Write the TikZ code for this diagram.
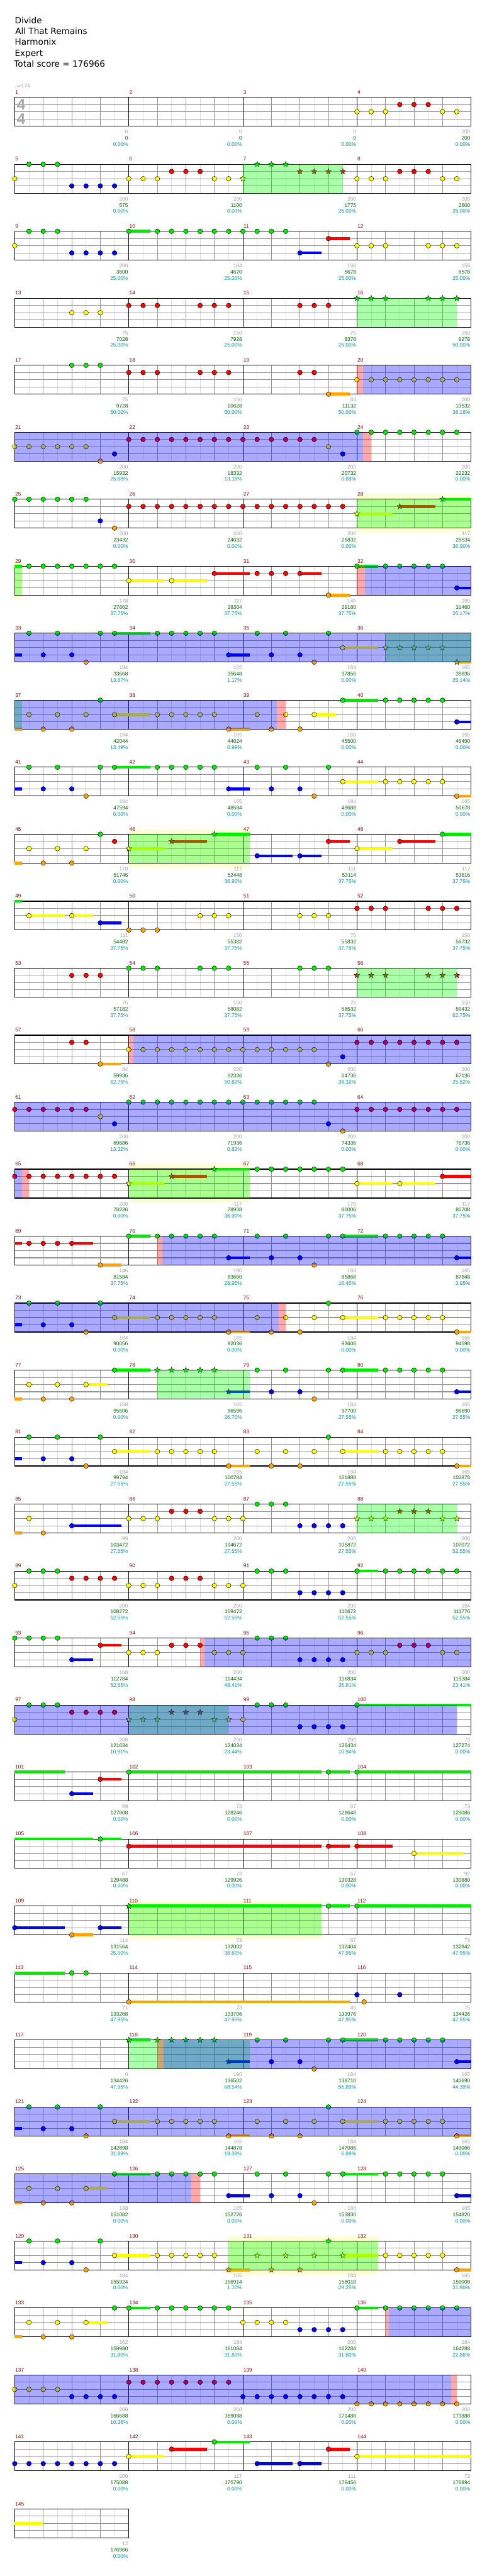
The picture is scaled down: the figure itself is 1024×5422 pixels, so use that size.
\documentclass[tikz,border=0pt]{standalone}
\usepackage{fontspec}
\setmainfont{DejaVu Sans}
\newfontfamily\numfont{Liberation Sans}
\usetikzlibrary{shapes.geometric}
\definecolor{lane0}{RGB}{0,235,0}
\definecolor{lane1}{RGB}{255,0,0}
\definecolor{lane2}{RGB}{255,255,0}
\definecolor{lane3}{RGB}{0,0,255}
\definecolor{lane4}{RGB}{255,165,0}
\definecolor{spgreen}{RGB}{0,255,0}
\definecolor{odblue}{RGB}{0,0,255}
\definecolor{pkred}{RGB}{255,0,0}
\definecolor{paleyel}{RGB}{255,255,212}
\definecolor{gridlight}{RGB}{222,222,222}
\definecolor{gridmid}{RGB}{150,150,150}
\definecolor{mnumred}{RGB}{140,0,0}
\definecolor{basegray}{RGB}{160,160,160}
\definecolor{scoregreen}{RGB}{0,100,0}
\definecolor{pctcyan}{RGB}{0,150,150}
\definecolor{headgray}{RGB}{168,168,168}
\tikzset{
  note/.style={circle, draw=black, line width=0.6pt, inner sep=0pt, minimum size=10pt},
  starnote/.style={star, star points=5, star point ratio=2.3, draw=black, line width=0.5pt, inner sep=0pt, minimum size=12.5pt},
  eighthline/.style={gridlight, line width=1pt},
  quarterline/.style={gridmid, line width=1pt},
  laneline/.style={gridmid, line width=1.4pt},
  barline/.style={black, line width=1pt},
  frameline/.style={black, line width=1.5pt},
  odfill/.style={fill=odblue, fill opacity=0.333},
  spfill/.style={fill=spgreen, fill opacity=0.333},
  pkfill/.style={fill=pkred, fill opacity=0.333},
  palefill/.style={fill=paleyel},
  mlabel/.style={anchor=base west, inner sep=0pt, text=mnumred, font=\numfont\fontsize{11}{11}\selectfont},
  basenum/.style={anchor=base east, inner sep=0pt, text=basegray, font=\numfont\fontsize{11}{11}\selectfont},
  scorenum/.style={basenum, text=scoregreen},
  pctnum/.style={basenum, text=pctcyan},
  headline/.style={anchor=base west, inner sep=0pt, font=\fontsize{18}{18}\selectfont},
  tempomark/.style={anchor=base west, inner sep=0pt, text=headgray, font=\fontsize{10}{10}\selectfont},
  timesig/.style={inner sep=0pt, text=headgray, font=\numfont\bfseries\fontsize{32}{32}\selectfont}
}
% row helpers (1 unit = 1px, y downwards)
\newcommand\setrow[1]{\def\rw{#1}\pgfmathsetmacro\rt{204.8+(#1-1)*141}\pgfmathsetmacro\rb{\rt+60.8}}
\newcommand\rowgrid[2]{%
  \pgfmathsetmacro\rr{31+240*#2}%
  \foreach \jj in {1,...,#2}{\foreach \ee in {30,90,150,210}{\draw[eighthline] ({31+240*(\jj-1)+\ee},\rt) -- ({31+240*(\jj-1)+\ee},\rb);}}
  \foreach \lz in {1,2,3}{\draw[laneline] (31,{\rt+15.2*\lz}) -- (\rr,{\rt+15.2*\lz});}
  \foreach \jj in {1,...,#2}{%
    \foreach \ee in {60,120,180}{\draw[quarterline] ({31+240*(\jj-1)+\ee},\rt) -- ({31+240*(\jj-1)+\ee},\rb);}
    \draw[barline] ({31+240*(\jj-1)},\rt) -- ({31+240*(\jj-1)},\rb);
    \pgfmathtruncatemacro\mn{#1+\jj-1}
    \node[mlabel] (m\mn) at ({32+240*(\jj-1)},{\rt-7}) {\mn};
  }
  \draw[frameline] (31,\rt) rectangle (\rr,\rb);
}
\newcommand\susbar[3]{\fill[lane#1] ({31+30*#2},{\rt+15.2*#1-3}) rectangle ({31+30*#3},{\rt+15.2*#1+3});}
\newcommand\lanenotes[2]{\foreach \k [count=\q] in {#2}{\node[note,fill=lane#1] (n\rw-#1-\q) at ({31+30*\k},{\rt+15.2*#1}) {};}}
\newcommand\lanestars[2]{\foreach \k [count=\q] in {#2}{\node[starnote,fill=lane#1] (s\rw-#1-\q) at ({31+30*\k},{\rt+15.2*#1}) {};}}
\newcommand\spzone[2]{\fill[spfill] ({31+30*#1},\rt) rectangle ({31+30*#2},\rb);}
\newcommand\odzone[2]{\fill[odfill] ({31+30*#1},\rt) rectangle ({31+30*#2},\rb);}
\newcommand\pkzone[2]{\fill[pkfill] ({31+30*#1},\rt) rectangle ({31+30*#2},\rb);}
\newcommand\palezone[2]{\fill[palefill] ({31+30*#1},{\rt-10}) rectangle ({31+30*#2},{\rb+10});}
\newcommand\rowscores[1]{\foreach \ga/\sc/\pc [count=\jj] in {#1}{%
  \node[basenum] (b\rw-\jj) at ({29.5+240*\jj},{\rb+16}) {\ga};
  \node[scorenum] (t\rw-\jj) at ({29.5+240*\jj},{\rb+29}) {\sc};
  \node[pctnum] (p\rw-\jj) at ({29.5+240*\jj},{\rb+42}) {\pc\%};}}

\begin{document}
\begin{tikzpicture}[x=1pt,y=-1pt]
  \useasboundingbox[fill=white] (0,0) rectangle (1024,5422);
  % header
  \node[headline] (song) at (31,49) {Divide};
  \node[headline] (artist) at (32,72) {All That Remains};
  \node[headline] (charter) at (31,95) {Harmonix};
  \node[headline] (level) at (31,118) {Expert};
  \node[headline] (total) at (29.5,141) {Total score = 176966};
  \node[tempomark] (tempo) at (31,185) {♩=174};

  % measures 1-4
  \setrow{1}\rowgrid{1}{4}
  \node[timesig] (tsa) at (44.5,220.5) {4};
  \node[timesig] (tsb) at (44.5,250.5) {4};
  \lanenotes{2}{24,25,26,30,31}
  \lanenotes{1}{27,28,29}
  \rowscores{0/0/0.00,0/0/0.00,0/0/0.00,200/200/0.00}

  % measures 5-8
  \setrow{2}\rowgrid{5}{4}
  \lanenotes{2}{0,8,9,10,14,15,24,25,26,30,31}
  \lanenotes{0}{1,2,3}
  \lanenotes{3}{4,5,6,7}
  \lanenotes{1}{11,12,13,27,28,29}
  \lanestars{2}{16}\lanestars{0}{17,18,19}\lanestars{1}{20,21,22,23}
  \spzone{16}{23}
  \rowscores{200/575/0.00,200/1100/0.00,200/1775/25.00,200/2600/25.00}

  % measures 9-12
  \setrow{3}\rowgrid{9}{4}
  \susbar{0}{8}{9.5}\susbar{3}{20}{21.5}\susbar{1}{22}{23.5}
  \lanenotes{2}{0,24,25,26,29,30,31}
  \lanenotes{0}{1,2,3,8,10,11,12,13,14,15,16,17,18,19}
  \lanenotes{3}{4,5,6,7,20}
  \lanenotes{1}{22}
  \rowscores{200/3600/25.00,184/4670/25.00,168/5678/25.00,150/6578/25.00}

  % measures 13-16
  \setrow{4}\rowgrid{13}{4}
  \lanenotes{2}{4,5,6}
  \lanenotes{1}{8,9,10,13,14,15,20,21,22}
  \lanestars{0}{24,25,26,29,30,31}
  \spzone{24}{31}
  \rowscores{75/7028/25.00,150/7928/25.00,75/8378/25.00,150/9278/50.00}

  % measures 17-20
  \setrow{5}\rowgrid{17}{4}
  \susbar{4}{22}{23.5}
  \lanenotes{0}{4,5,6}
  \lanenotes{1}{8,9,10,13,14,15,20,21}
  \lanenotes{4}{22}
  \lanenotes{2}{24,25,26,27,28,29,30,31}
  \pkzone{24}{24.43}\odzone{24.43}{32}
  \rowscores{75/9728/50.00,150/10628/50.00,84/11132/50.00,200/13532/38.18}

  % measures 21-24
  \setrow{6}\rowgrid{21}{4}
  \lanenotes{2}{0,1,2,3,4,5,22}
  \lanenotes{4}{6}
  \lanenotes{3}{7,23}
  \lanenotes{1}{8,9,10,11,12,13,14,15,16,17,18,19,20,21}
  \lanenotes{0}{24,25,26,27,28,29,30,31}
  \odzone{0}{24.43}\pkzone{24.43}{25}
  \rowscores{200/15932/25.68,200/18332/13.18,200/20732/0.68,200/22232/0.00}

  % measures 25-28
  \setrow{7}\palezone{24}{32}\rowgrid{25}{4}
  \susbar{2}{24}{26.5}\susbar{1}{27}{29.5}\susbar{0}{30}{32}
  \lanenotes{0}{0,1,2,3,4,5}
  \lanenotes{3}{6}
  \lanenotes{4}{7}
  \lanenotes{1}{8,9,10,11,12,13,14,15,16,17,18,19,20,21,22,23}
  \lanestars{2}{24}\lanestars{1}{27}\lanestars{0}{30}
  \spzone{24}{32}
  \rowscores{200/23432/0.00,200/24632/0.00,200/25832/0.00,117/26534/36.90}

  % measures 29-32
  \setrow{8}\palezone{0}{0.5}\rowgrid{29}{4}
  \susbar{0}{0}{0.5}\susbar{2}{8}{10.5}\susbar{2}{11}{13.5}\susbar{1}{14}{16.5}\susbar{1}{20}{21.5}
  \susbar{4}{22}{23.5}\susbar{0}{24}{25.5}\susbar{3}{31}{32}
  \lanenotes{0}{1,2,3,4,5,6,7,24,26,27,28,29,30}
  \lanenotes{2}{8,11}
  \lanenotes{1}{14,17,18,19,20}
  \lanenotes{4}{22}
  \lanenotes{3}{31}
  \spzone{0}{0.5}\pkzone{24}{24.55}\odzone{24.55}{32}
  \rowscores{178/27602/37.75,117/28304/37.75,146/29180/37.75,190/31460/26.17}

  % measures 33-36
  \setrow{9}\rowgrid{33}{4}
  \susbar{3}{0}{0.5}\susbar{0}{7}{9.5}\susbar{3}{15}{16.5}\susbar{2}{23}{25.5}\susbar{4}{31}{32}
  \lanenotes{0}{1,3,6,7,10,11,12,13,14,17,19,22}
  \lanenotes{3}{2,4,15,18,20}
  \lanenotes{4}{5,21}
  \lanenotes{2}{23}
  \lanestars{2}{26,27,28,29,30}\lanestars{4}{31}
  \spzone{26}{32}\odzone{0}{32}
  \rowscores{184/33668/13.67,165/35648/1.17,184/37856/0.00,165/39836/25.14}

  % measures 37-40
  \setrow{10}\rowgrid{37}{4}
  \susbar{4}{0}{0.5}\susbar{2}{7}{9.5}\susbar{4}{15}{16.5}\susbar{2}{21}{22.5}\susbar{0}{23}{25.5}\susbar{3}{31}{32}
  \lanenotes{2}{1,3,5,7,10,11,12,13,14,17,19,21}
  \lanenotes{4}{2,4,15,18,20}
  \lanenotes{0}{6,23,26,27,28,29,30}
  \lanenotes{3}{31}
  \spzone{0}{0.5}\odzone{0}{18.4}\pkzone{18.4}{19}
  \rowscores{184/42044/13.49,165/44024/0.99,168/45500/0.00,165/46490/0.00}

  % measures 41-44
  \setrow{11}\rowgrid{41}{4}
  \susbar{3}{0}{0.5}\susbar{0}{7}{9.5}\susbar{3}{15}{16.5}\susbar{2}{23}{25.5}\susbar{4}{31}{32}
  \lanenotes{0}{1,3,6,7,10,11,12,13,14,17,19,22}
  \lanenotes{3}{2,4,15,18,20}
  \lanenotes{4}{5,21,31}
  \lanenotes{2}{23,26,27,28,29,30}
  \rowscores{184/47594/0.00,165/48584/0.00,184/49688/0.00,165/50678/0.00}

  % measures 45-48
  \setrow{12}\palezone{8}{16.5}\rowgrid{45}{4}
  \susbar{4}{0}{0.5}\susbar{2}{8}{10.5}\susbar{1}{11}{13.5}\susbar{0}{14}{16.5}\susbar{3}{17}{19.5}
  \susbar{3}{20}{21.5}\susbar{1}{22}{23.5}\susbar{2}{24}{26.5}\susbar{1}{27}{29.5}\susbar{0}{30}{32}
  \lanenotes{2}{1,3,5,24}
  \lanenotes{4}{2,4}
  \lanenotes{0}{6,30}
  \lanenotes{1}{7,22,27}
  \lanenotes{3}{17,20}
  \lanestars{2}{8}\lanestars{1}{11}\lanestars{0}{14}
  \spzone{8}{16.5}
  \rowscores{178/51746/0.00,117/52448/36.90,111/53114/37.75,117/53816/37.75}

  % measures 49-52
  \setrow{13}\rowgrid{49}{4}
  \susbar{0}{0}{0.5}\susbar{2}{1}{3.5}\susbar{2}{4}{5.5}\susbar{3}{6}{7.5}
  \lanenotes{2}{1,4,13,14,15,20,21,22}
  \lanenotes{3}{6}
  \lanenotes{4}{8,9,10}
  \lanenotes{1}{24,25,26,29,30,31}
  \rowscores{111/54482/37.75,150/55382/37.75,75/55832/37.75,150/56732/37.75}

  % measures 53-56
  \setrow{14}\rowgrid{53}{4}
  \lanenotes{1}{4,5,6}
  \lanenotes{0}{8,9,10,13,14,15,20,21,22}
  \lanestars{1}{24,25,26,29,30,31}
  \spzone{24}{31}
  \rowscores{75/57182/37.75,150/58082/37.75,75/58532/37.75,150/59432/62.75}

  % measures 57-60
  \setrow{15}\rowgrid{57}{4}
  \susbar{4}{6}{7.5}
  \lanenotes{1}{4,5,24,25,26,27,28,29,30,31}
  \lanenotes{4}{6,22}
  \lanenotes{2}{8,9,10,11,12,13,14,15,16,17,18,19,20,21}
  \lanenotes{3}{23}
  \pkzone{8}{8.3}\odzone{8.3}{32}
  \rowscores{84/59936/62.75,200/62336/50.82,200/64736/38.32,200/67136/25.82}

  % measures 61-64
  \setrow{16}\rowgrid{61}{4}
  \lanenotes{1}{0,1,2,3,4,5,24,25,26,27,28,29,30,31}
  \lanenotes{2}{6}
  \lanenotes{3}{7,22}
  \lanenotes{0}{8,9,10,11,12,13,14,15,16,17,18,19,20,21}
  \lanenotes{4}{23}
  \odzone{0}{32}
  \rowscores{200/69686/13.32,200/71936/0.82,200/74336/0.00,200/76736/0.00}

  % measures 65-68
  \setrow{17}\palezone{8}{16.5}\rowgrid{65}{4}
  \susbar{2}{8}{10.5}\susbar{1}{11}{13.5}\susbar{0}{14}{16.5}\susbar{2}{24}{26.5}\susbar{2}{27}{29.5}\susbar{1}{30}{32}
  \lanenotes{1}{0,1,2,3,4,5,6,7,30}
  \lanenotes{0}{17,18,19,20,21,22,23}
  \lanenotes{2}{24,27}
  \lanestars{2}{8}\lanestars{1}{11}\lanestars{0}{14}
  \spzone{8}{16.5}\odzone{0}{0.5}\pkzone{0.5}{1}
  \rowscores{200/78236/0.00,117/78938/36.90,178/80006/37.75,117/80708/37.75}

  % measures 69-72
  \setrow{18}\rowgrid{69}{4}
  \susbar{1}{0}{0.5}\susbar{1}{4}{5.5}\susbar{4}{6}{7.5}\susbar{0}{8}{9.5}\susbar{3}{15}{16.5}\susbar{0}{23}{25.5}\susbar{3}{31}{32}
  \lanenotes{1}{1,2,3,4}
  \lanenotes{4}{6,21}
  \lanenotes{0}{8,10,11,12,13,14,17,19,22,23,26,27,28,29,30}
  \lanenotes{3}{15,18,20,31}
  \pkzone{10}{10.33}\odzone{10.33}{32}
  \rowscores{146/81584/37.75,190/83660/28.95,184/85868/16.45,165/87848/3.95}

  % measures 73-76
  \setrow{19}\rowgrid{73}{4}
  \susbar{3}{0}{0.5}\susbar{2}{7}{9.5}\susbar{4}{15}{16.5}\susbar{2}{23}{25.5}\susbar{4}{31}{32}
  \lanenotes{0}{1,3,6,22}
  \lanenotes{3}{2,4}
  \lanenotes{4}{5,15,18,20,31}
  \lanenotes{2}{7,10,11,12,13,14,17,19,21,23,26,27,28,29,30}
  \odzone{0}{18.5}\pkzone{18.5}{19}
  \rowscores{184/90056/0.00,165/92036/0.00,184/93608/0.00,165/94598/0.00}

  % measures 77-80
  \setrow{20}\rowgrid{77}{4}
  \susbar{4}{0}{0.5}\susbar{2}{5}{6.5}\susbar{0}{7}{9.5}\susbar{3}{15}{16.5}\susbar{0}{23}{25.5}\susbar{3}{31}{32}
  \lanenotes{2}{1,3,5}
  \lanenotes{4}{2,4,21}
  \lanenotes{0}{7,17,19,22,23,26,27,28,29,30}
  \lanenotes{3}{18,20,31}
  \lanestars{0}{10,11,12,13,14}\lanestars{3}{15}
  \spzone{10}{16.5}
  \rowscores{168/95606/0.00,165/96596/26.70,184/97700/27.55,165/98690/27.55}

  % measures 81-84
  \setrow{21}\rowgrid{81}{4}
  \susbar{3}{0}{0.5}\susbar{2}{7}{9.5}\susbar{4}{15}{16.5}\susbar{2}{23}{25.5}\susbar{4}{31}{32}
  \lanenotes{0}{1,3,6,22}
  \lanenotes{3}{2,4}
  \lanenotes{4}{5,15,18,20,31}
  \lanenotes{2}{7,10,11,12,13,14,17,19,21,23,26,27,28,29,30}
  \rowscores{184/99794/27.55,165/100784/27.55,184/101888/27.55,165/102878/27.55}

  % measures 85-88
  \setrow{22}\rowgrid{85}{4}
  \susbar{4}{0}{0.5}\susbar{3}{4}{7.5}
  \lanenotes{2}{1,8,9,10,14,15,16}
  \lanenotes{4}{2}
  \lanenotes{3}{4,20,21,22,23}
  \lanenotes{1}{11,12,13}
  \lanenotes{0}{17,18,19}
  \lanestars{2}{24,25,26,30,31}\lanestars{1}{27,28,29}
  \spzone{24}{31}
  \rowscores{99/103472/27.55,200/104672/27.55,200/105872/27.55,200/107072/52.55}

  % measures 89-92
  \setrow{23}\rowgrid{89}{4}
  \susbar{0}{24}{25.5}
  \lanenotes{2}{0,8,9,10,14,15,16}
  \lanenotes{0}{1,2,3,17,18,19,24,26,27,28,29,30,31}
  \lanenotes{1}{4,5,6,7,11,12,13}
  \lanenotes{3}{20,21,22,23}
  \rowscores{200/108272/52.55,200/109472/52.55,200/110672/52.55,184/111776/52.55}

  % measures 93-96
  \setrow{24}\rowgrid{93}{4}
  \susbar{3}{4}{5.5}\susbar{1}{6}{7.5}
  \lanenotes{0}{0,1,2,3,17,18,19}
  \lanenotes{3}{4,20,21,22,23}
  \lanenotes{1}{6,11,12,13,27,28,29}
  \lanenotes{2}{8,9,10,14,15,16,24,25,26,30,31}
  \pkzone{13}{13.3}\odzone{13.3}{32}
  \rowscores{168/112784/52.55,200/114434/48.41,200/116834/35.91,200/119384/23.41}

  % measures 97-100
  \setrow{25}\rowgrid{97}{4}
  \susbar{0}{24}{32}
  \lanenotes{2}{0,16}
  \lanenotes{0}{1,2,3,17,18,19,24}
  \lanenotes{1}{4,5,6,7}
  \lanenotes{3}{20,21,22,23}
  \lanestars{2}{8,9,10,14,15}\lanestars{1}{11,12,13}
  \spzone{8}{15}\odzone{0}{31}
  \rowscores{200/121634/10.91,200/124034/23.44,200/126434/10.94,73/127274/0.00}

  % measures 101-104
  \setrow{26}\rowgrid{101}{4}
  \susbar{0}{0}{3.5}\susbar{3}{4}{5.5}\susbar{1}{6}{7.5}\susbar{0}{8}{21.5}\susbar{0}{22}{23.5}\susbar{0}{24}{32}
  \lanenotes{3}{4}\lanenotes{1}{6}\lanenotes{0}{8,22,24}
  \rowscores{89/127808/0.00,73/128246/0.00,67/128648/0.00,73/129086/0.00}

  % measures 105-108
  \setrow{27}\rowgrid{105}{4}
  \susbar{0}{0}{5.5}\susbar{0}{6}{7.5}\susbar{1}{8}{21.5}\susbar{1}{22}{23.5}\susbar{1}{24}{26.5}\susbar{2}{28}{31.5}
  \lanenotes{0}{6}\lanenotes{1}{8,22,24}\lanenotes{2}{28}
  \rowscores{67/129488/0.00,73/129926/0.00,67/130328/0.00,92/130880/0.00}

  % measures 109-112
  \setrow{28}\palezone{8}{21.5}\rowgrid{109}{4}
  \susbar{3}{0}{3.5}\susbar{4}{4}{5.5}\susbar{3}{6}{7.5}\susbar{0}{8}{21.5}\susbar{0}{22}{23.5}\susbar{0}{24}{32}
  \lanenotes{3}{0,6}\lanenotes{4}{4}\lanenotes{0}{22,24}
  \lanestars{0}{8}
  \spzone{8}{21.5}
  \rowscores{114/131564/25.00,73/132002/38.60,67/132404/47.95,73/132842/47.95}

  % measures 113-116
  \setrow{29}\rowgrid{113}{4}
  \susbar{0}{0}{3.5}\susbar{4}{8}{23.5}
  \lanenotes{0}{4,5}\lanenotes{4}{8,24.5}\lanenotes{3}{24,27}
  \rowscores{71/133268/47.95,73/133706/47.95,45/133976/47.95,75/134426/47.95}

  % measures 117-120
  \setrow{30}\rowgrid{117}{4}
  \susbar{0}{8}{9.5}\susbar{3}{15}{16.5}\susbar{0}{23}{25.5}\susbar{3}{31}{32}
  \lanenotes{0}{17,19,22,23,26,27,28,29,30}
  \lanenotes{3}{18,20,31}
  \lanenotes{4}{21}
  \lanestars{0}{8,10,11,12,13,14}\lanestars{3}{15}
  \spzone{8}{16.5}\pkzone{10}{10.43}\odzone{10.43}{32}
  \rowscores{0/134426/47.95,190/136502/68.54,184/138710/56.89,165/140690/44.39}

  % measures 121-124
  \setrow{31}\rowgrid{121}{4}
  \susbar{3}{0}{0.5}\susbar{2}{7}{9.5}\susbar{4}{15}{16.5}\susbar{2}{23}{25.5}\susbar{4}{31}{32}
  \lanenotes{0}{1,3,6,22}
  \lanenotes{3}{2,4}
  \lanenotes{4}{5,15,18,20,31}
  \lanenotes{2}{7,10,11,12,13,14,17,19,21,23,26,27,28,29,30}
  \odzone{0}{32}
  \rowscores{184/142898/31.89,165/144878/19.39,184/147086/6.89,165/149066/0.00}

  % measures 125-128
  \setrow{32}\rowgrid{125}{4}
  \susbar{4}{0}{0.5}\susbar{2}{5}{6.5}\susbar{0}{7}{9.5}\susbar{3}{15}{16.5}\susbar{0}{23}{25.5}\susbar{3}{31}{32}
  \lanenotes{2}{1,3,5}
  \lanenotes{4}{2,4,21}
  \lanenotes{0}{7,10,11,12,13,14,17,19,22,23,26,27,28,29,30}
  \lanenotes{3}{15,18,20,31}
  \odzone{0}{12.4}\pkzone{12.4}{13}
  \rowscores{168/151082/0.00,165/152726/0.00,184/153830/0.00,165/154820/0.00}

  % measures 129-132
  \setrow{33}\palezone{15}{25.5}\rowgrid{129}{4}
  \susbar{3}{0}{0.5}\susbar{2}{7}{9.5}\susbar{4}{15}{16.5}\susbar{2}{23}{25.5}\susbar{4}{31}{32}
  \lanenotes{0}{1,3,6}
  \lanenotes{3}{2,4}
  \lanenotes{4}{5,31}
  \lanenotes{2}{7,10,11,12,13,14,26,27,28,29,30}
  \lanestars{4}{15,18,20}\lanestars{2}{17,19,21,23}\lanestars{0}{22}
  \spzone{15}{25.5}
  \rowscores{184/155924/0.00,165/156914/1.70,184/158018/29.25,165/159008/31.80}

  % measures 133-136
  \setrow{34}\rowgrid{133}{4}
  \susbar{4}{0}{0.5}\susbar{2}{5}{6.5}\susbar{0}{8}{9.5}\susbar{0}{24}{25.5}
  \lanenotes{2}{1,3,5,16,17,18,19}
  \lanenotes{4}{2,4}
  \lanenotes{0}{7,8,10,11,12,13,14,15,24,26,27,28,29,30,31}
  \lanenotes{3}{20,21,22,23}
  \pkzone{26}{26.25}\odzone{26.25}{32}
  \rowscores{162/159980/31.80,184/161084/31.80,200/162284/31.80,184/164288/22.86}

  % measures 137-140
  \setrow{35}\rowgrid{137}{4}
  \lanenotes{2}{0,1,2,3}
  \lanenotes{3}{4,5,6,7,16,17,18,19,20,21,22,23}
  \lanenotes{1}{8,9,10,11,12,13,14,15}
  \lanenotes{4}{24,25,26,27,28,29,30,31}
  \odzone{0}{30.6}\pkzone{30.6}{31}
  \rowscores{200/166688/10.36,200/169088/0.00,200/171488/0.00,200/173888/0.00}

  % measures 141-144
  \setrow{36}\rowgrid{141}{4}
  \susbar{2}{8}{10.5}\susbar{1}{11}{13.5}\susbar{0}{14}{16.5}\susbar{3}{17}{19.5}\susbar{3}{20}{21.5}\susbar{1}{22}{23.5}\susbar{2}{24}{32}
  \lanenotes{3}{0,1,2,3,4,5,6,7,17,20}
  \lanenotes{2}{8,24}
  \lanenotes{1}{11,22}
  \lanenotes{0}{14}
  \rowscores{200/175088/0.00,117/175790/0.00,111/176456/0.00,73/176894/0.00}

  % measure 145
  \setrow{37}\rowgrid{145}{1}
  \susbar{2}{0}{1.95}
  \rowscores{12/176966/0.00}
\end{tikzpicture}
\end{document}
